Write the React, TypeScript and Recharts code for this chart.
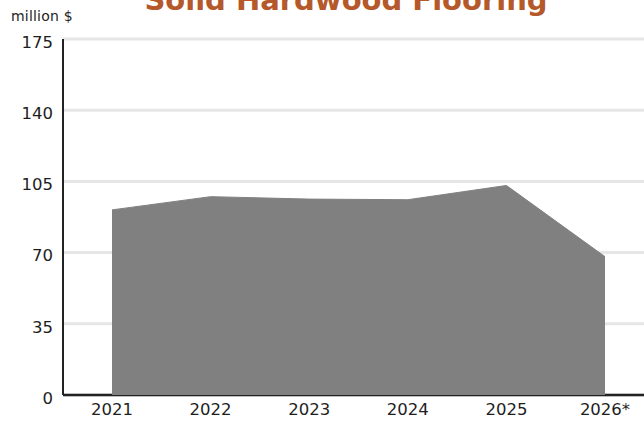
import React from 'react';
import { AreaChart, Area, XAxis, YAxis, CartesianGrid } from 'recharts';

const years = ['2021', '2022', '2023', '2024', '2025', '2026*'];
const sales = [91, 97.5, 96.3, 96, 103, 68];
const yTicks = [0, 35, 70, 105, 140, 175];

const title = 'Solid Hardwood Flooring';
const unitLabel = 'million $';

const data = years.map((year, i) => ({ year, value: sales[i] }));

export default function App() {
  return (
    <div
      style={{
        position: 'absolute',
        left: 0,
        top: 0,
        width: 644,
        height: 421,
        overflow: 'hidden',
        background: '#fff',
      }}
    >
      <AreaChart
        width={644}
        height={421}
        data={data}
        margin={{ top: 39, right: 0, bottom: 0, left: 0 }}
      >
        <CartesianGrid vertical={false} stroke="#e6e6e6" strokeWidth={3} />
        <XAxis
          dataKey="year"
          padding={{ left: 49, right: 39 }}
          height={26}
          tickLine={false}
          axisLine={{ stroke: '#222', strokeWidth: 2.5 }}
          tick={{ fontSize: 16.5, fill: '#1e1e1e', fontFamily: 'DejaVu Sans' }}
        />
        <YAxis
          width={63}
          domain={[0, 175]}
          ticks={yTicks}
          interval={0}
          tickLine={false}
          tickMargin={4}
          axisLine={{ stroke: '#222', strokeWidth: 2 }}
          tick={{ fontSize: 16.5, fill: '#1e1e1e', fontFamily: 'DejaVu Sans', dy: 3 }}
        />
        <Area
          type="linear"
          dataKey="value"
          fill="#808080"
          fillOpacity={1}
          stroke="#808080"
          strokeWidth={1}
          zIndex={1000}
          isAnimationActive={false}
        />
      </AreaChart>
      <svg
        width={644}
        height={40}
        style={{ position: 'absolute', left: 0, top: 0 }}
      >
        <text
          x={346}
          y={9.5}
          textAnchor="middle"
          fontFamily="DejaVu Sans"
          fontWeight="bold"
          fontSize={29}
          fill="#b5582a"
        >
          {title}
        </text>
        <text
          x={11}
          y={20.7}
          fontFamily="DejaVu Sans"
          fontSize={14}
          letterSpacing={0.2}
          fill="#1e1e1e"
        >
          {unitLabel}
        </text>
      </svg>
    </div>
  );
}
